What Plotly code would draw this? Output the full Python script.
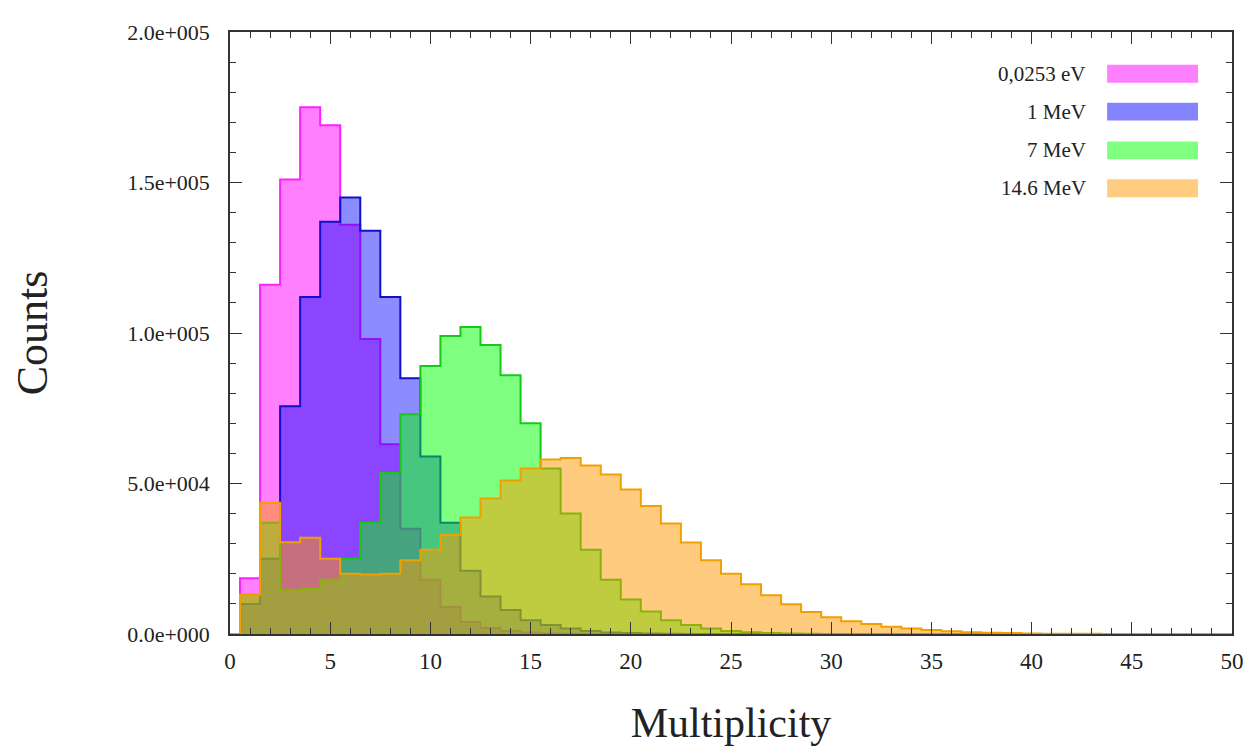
import plotly.graph_objects as go

# Multiplicity bins (centres) 0..50
multiplicity = list(range(0, 51))

# Counts per bin
counts_thermal = [0, 18500, 116000, 151000, 175000, 169000, 136000, 98000, 63000, 35000,
                  18000, 9000, 4000, 2000, 1000, 500, 200, 100] + [0] * 33
counts_1mev = [0, 10000, 25000, 75700, 112000, 137000, 145000, 134000, 112000, 85000,
               59000, 37000, 21000, 12500, 8000, 4600, 3000, 1800, 1000, 500,
               300, 150, 80] + [0] * 28
counts_7mev = [0, 13000, 37000, 14500, 15000, 18000, 25000, 37000, 53500, 73000,
               89000, 99000, 102000, 96000, 86000, 70000, 55000, 40000, 28000, 18000,
               11500, 7500, 4600, 3000, 1800, 1000, 600, 300, 200, 100] + [0] * 21
counts_14mev = [0, 13000, 43600, 30500, 32000, 25000, 20000, 19800, 20000, 24500,
                28000, 33000, 38700, 45000, 51000, 55000, 58000, 58500, 56000, 53000,
                48000, 42500, 36700, 30400, 24500, 20000, 16500, 12900, 9900, 7300,
                5600, 4200, 3300, 2400, 1800, 1300, 900, 600, 400, 300,
                200, 120, 80, 50, 30, 20, 10, 0, 0, 0, 0]

series_names = ["0,0253 eV", "1 MeV", "7 MeV", "14.6 MeV"]
series_counts = [counts_thermal, counts_1mev, counts_7mev, counts_14mev]

y_tickvals = [0, 50000, 100000, 150000, 200000]
y_ticktext = ["0.0e+000", "5.0e+004", "1.0e+005", "1.5e+005", "2.0e+005"]
x_tickvals = list(range(0, 51, 5))

fill_colors = ["rgba(255,0,255,0.5)", "rgba(0,0,255,0.45)", "rgba(0,255,0,0.5)", "rgba(255,153,0,0.5)"]
line_colors = ["#ff20ff", "#1010c8", "#18c818", "#f0a000"]
swatch_colors = ["#ff80ff", "#8484ff", "#80ff80", "#ffcc80"]

FONT = "Liberation Serif"

fig = go.Figure()
for name, counts, fc, lc in zip(series_names, series_counts, fill_colors, line_colors):
    edges = [m - 0.5 for m in multiplicity] + [multiplicity[-1] + 0.5]
    ys = counts + [counts[-1]]
    fig.add_trace(go.Scatter(
        x=edges, y=ys, name=name, mode="lines",
        line=dict(shape="hv", color=lc, width=2),
        fill="tozeroy", fillcolor=fc, showlegend=False,
    ))

# page offset of the figure (body margin)
OFF = 8
W, H = 1256, 747
# desired plot-area edges in page pixels
PX_L, PX_R, PX_T, PX_B = 229, 1232, 29, 634
L = PX_L - OFF
T = PX_T - OFF
pw = PX_R - PX_L
ph = PX_B - PX_T
R = W - L - pw
B = H - T - ph


def px_to_paper_x(px):
    return (px - PX_L) / pw


def px_to_paper_y(py):
    return (PX_B - py) / ph


# Legend drawn as text + swatches (text left of swatch, as in the original)
legend_y = [71, 109, 148, 186]
for name, sc, yc in zip(series_names, swatch_colors, legend_y):
    fig.add_annotation(x=px_to_paper_x(1088), y=px_to_paper_y(yc), xref="paper", yref="paper",
                       text=name, showarrow=False, xanchor="right", yanchor="middle",
                       font=dict(family=FONT, size=21, color="#222"))
    fig.add_shape(type="rect", xref="paper", yref="paper",
                  x0=px_to_paper_x(1107), x1=px_to_paper_x(1198),
                  y0=px_to_paper_y(yc + 9), y1=px_to_paper_y(yc - 9),
                  fillcolor=sc, line=dict(width=0))

fig.update_layout(
    width=W, height=H,
    margin=dict(l=L, r=R, t=T, b=B),
    paper_bgcolor="white", plot_bgcolor="white",
    font=dict(family=FONT, color="#222"),
    xaxis=dict(
        range=[0, 50], tickvals=x_tickvals, ticks="inside", ticklen=12,
        tickcolor="#333", showline=True, linecolor="#333", linewidth=1.5,
        mirror="ticks", showgrid=False, zeroline=False,
        minor=dict(ticks="inside", dtick=1, ticklen=6, tickcolor="#333"),
        tickfont=dict(family=FONT, size=23, color="#222"),
        ticklabelstandoff=6,
        title=dict(text="Multiplicity", font=dict(family=FONT, size=42, color="#222"), standoff=34),
    ),
    yaxis=dict(
        range=[0, 200000], tickvals=y_tickvals, ticktext=y_ticktext, ticks="inside",
        ticklen=12, tickcolor="#333", showline=True, linecolor="#333", linewidth=1.5,
        mirror="ticks", showgrid=False, zeroline=False,
        minor=dict(ticks="inside", dtick=10000, ticklen=6, tickcolor="#333"),
        tickfont=dict(family=FONT, size=22, color="#222"),
        ticklabelstandoff=14,
        title=dict(text="Counts", font=dict(family=FONT, size=44, color="#222"), standoff=76),
    ),
)

fig.write_html("out.html")
